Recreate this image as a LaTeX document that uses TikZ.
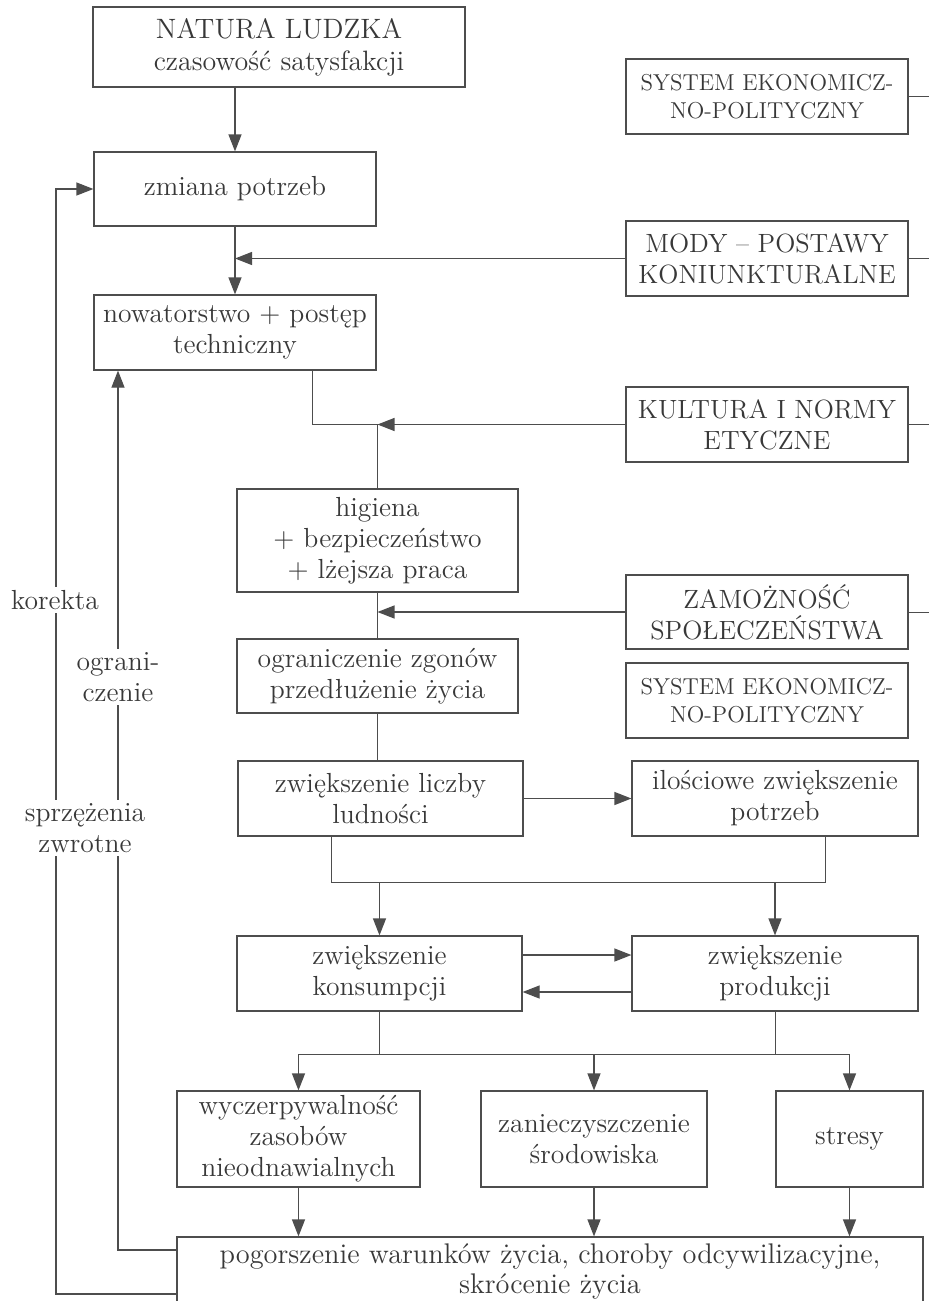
\documentclass[tikz,border=0pt]{standalone}
\usepackage{fontspec}
\usetikzlibrary{arrows.meta,calc}
\definecolor{lc}{HTML}{4D4D4D}
\definecolor{tx}{HTML}{383838}
\begin{document}
\begin{tikzpicture}[x=0.5pt,y=-0.5pt,
  box/.style={draw=lc, line width=0.6pt, text=tx, align=center, inner sep=0pt,
    font=\fontsize{13.8}{15.5}\selectfont},
  cbox/.style={box, font=\fontsize{13.2}{15.5}\selectfont},
  sbox/.style={box, font=\fontsize{11.5}{14}\selectfont},
  arr/.style={draw=lc, line width=0.6pt, -{Triangle[length=8.5pt,width=6.5pt]}},
  conn/.style={draw=lc, line width=0.5pt},
  lab/.style={fill=white, text=tx, align=center, inner sep=1.5pt,
    font=\fontsize{13.8}{15.5}\selectfont}]
\fill[white] (0,0) rectangle (929,1301);
\useasboundingbox (0,0) rectangle (929,1301);

% main column
\node[box, line width=1.1pt, minimum width=186pt, minimum height=40pt, font=\fontsize{14}{16}\selectfont] (nat) at (279,47) {NATURA LUDZKA\\czasowość satysfakcji};
\node[box, minimum width=141pt, minimum height=37pt] (zm) at (235,189) {zmiana potrzeb};
\node[box, minimum width=141pt, minimum height=37.5pt] (now) at (235,332.5) {nowatorstwo + postęp\\techniczny};
\node[box, minimum width=140.5pt, minimum height=51.5pt] (hig) at (377.5,540.5) {higiena\\+ bezpieczeństwo\\+ lżejsza praca};
\node[box, minimum width=140.5pt, minimum height=37pt] (ogr) at (377.5,676) {ograniczenie zgonów\\przedłużenie życia};
\node[box, minimum width=142.5pt, minimum height=37.5pt] (lud) at (380.5,798.5) {zwiększenie liczby\\ludności};
\node[box, minimum width=143pt, minimum height=37.5pt] (ilo) at (775,798.5) {ilościowe zwiększenie\\potrzeb};
\node[box, minimum width=142.5pt, minimum height=37.5pt] (kon) at (379.5,973.5) {zwiększenie\\konsumpcji};
\node[box, minimum width=143pt, minimum height=37.5pt] (pro) at (775,973.5) {zwiększenie\\produkcji};
\node[box, minimum width=121.5pt, minimum height=48pt] (wyc) at (298.5,1139) {wyczerpywalność\\zasobów\\nieodnawialnych};
\node[box, minimum width=113pt, minimum height=48pt] (zan) at (594,1139) {zanieczyszczenie\\środowiska};
\node[box, minimum width=73.5pt, minimum height=48pt] (str) at (849.5,1139) {stresy};
\node[box, minimum width=373pt, minimum height=34.5pt, font=\fontsize{14.2}{15}\selectfont] (pog) at (550,1271.5) {pogorszenie warunków życia, choroby odcywilizacyjne,\\skrócenie życia};

% right column
\node[sbox, minimum width=141pt, minimum height=37.5pt] (sys1) at (767,96.5) {SYSTEM EKONOMICZ-\\NO-POLITYCZNY};
\node[cbox, minimum width=141pt, minimum height=37.5pt] (mod) at (767,258.5) {MODY – POSTAWY\\KONIUNKTURALNE};
\node[cbox, minimum width=141pt, minimum height=37.5pt] (kul) at (767,424.5) {KULTURA I NORMY\\ETYCZNE};
\node[cbox, minimum width=141pt, minimum height=37pt] (zam) at (767,612) {ZAMOŻNOŚĆ\\SPOŁECZEŃSTWA};
\node[sbox, minimum width=141pt, minimum height=37.5pt] (sys2) at (767,700.5) {SYSTEM EKONOMICZ-\\NO-POLITYCZNY};

\coordinate (R) at (929,0);
\foreach \n in {sys1,mod,kul,zam} \draw[conn] (\n.east) -- (\n.east -| R);

% connectors
\draw[arr] (nat.south -| zm.north) -- (zm.north);
\draw[arr] (zm.south) -- (now.north);
\draw[arr] (mod.west) -- (mod.west -| zm.south);
\draw[conn] ($(now.south east)+(-64,0)$) |- (kul.west -| hig.north) -- (hig.north);
\draw[arr] (kul.west) -- (kul.west -| hig.north);
\draw[conn] (hig.south) -- (ogr.north);
\draw[arr] (zam.west) -- (zam.west -| hig.south);
\draw[conn] (ogr.south) -- (ogr.south |- lud.north);
\draw[arr] (lud.east) -- (lud.east -| ilo.west);
\coordinate (b1) at (331,882);
\coordinate (b2) at (825,882);
\draw[conn] (lud.south -| b1) -- (b1) -- (b2) -- (b2 |- ilo.south);
\draw[arr] (kon.north |- b1) -- (kon.north);
\draw[arr] (pro.north |- b1) -- (pro.north);
\draw[arr] ([yshift=9.25pt]kon.east) -- ([yshift=9.25pt]pro.west);
\draw[arr] ([yshift=-9.25pt]pro.west) -- ([yshift=-9.25pt]kon.east);
\coordinate (c) at (0,1054);
\draw[conn] (kon.south) -- (kon.south |- c);
\draw[conn] (pro.south) -- (pro.south |- c);
\draw[conn] (wyc.north |- c) -- (str.north |- c);
\foreach \n in {wyc,zan,str} {
  \draw[arr] (\n.north |- c) -- (\n.north);
  \draw[arr] (\n.south) -- (\n.south |- pog.north);
}

% feedback loops
\coordinate (g) at (118,0);
\coordinate (k) at (56,0);
\draw[arr] ([yshift=10.75pt]pog.west) -| (g |- now.south);
\draw[arr] ([yshift=-11.25pt]pog.west) -| (k |- zm.west) -- (zm.west);

\node[lab] (lk) at (55,600) {korekta};
\node[lab] (lo) at (118,677) {ograni-\\czenie};
\node[lab] (ls) at (85,828) {sprzężenia\\zwrotne};
\end{tikzpicture}
\end{document}
